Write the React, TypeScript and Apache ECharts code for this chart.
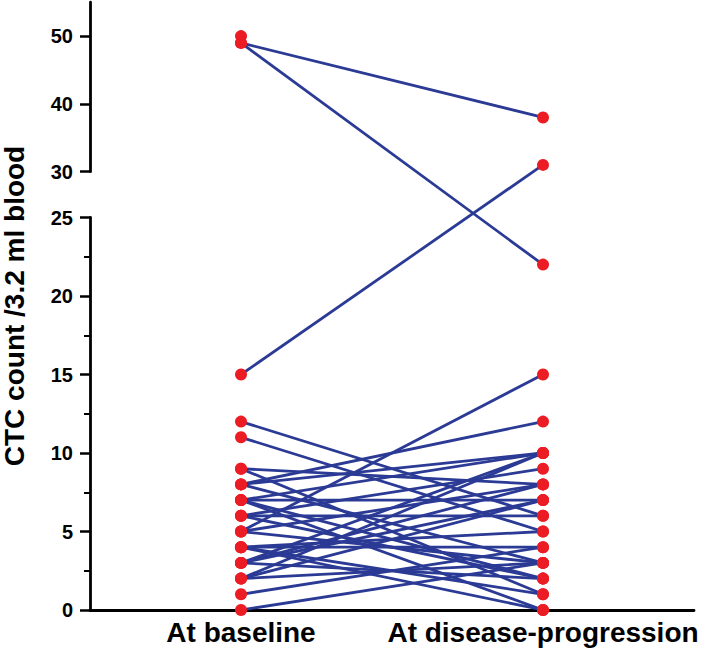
import React, { useEffect, useRef } from "react";
import * as echarts from "echarts";

// ---- data ----
const groups = ["At baseline", "At disease-progression"];
// one value per patient; null = no value at disease progression
const baseline = [50, 49, 49, 15, 12, 11, 9, 9, 8, 8, 8, 7, 7, 7, 7, 6, 6, 6, 5, 5, 5, 4, 4, 4, 4, 3, 3, 3, 3, 2, 2, 2, 1, 0];
const progression: (number | null)[] = [null, 38, 22, 31, 6, 5, 8, 1, 12, 10, 3, 10, 7, 2, 0, 9, 6, 2, 15, 8, 3, 1, 4, 0, 5, 10, 8, 2, 7, 10, 7, 3, 4, 3];
const lowerTicks = [0, 5, 10, 15, 20, 25];
const upperTicks = [30, 40, 50];
const yTitle = "CTC count /3.2 ml blood";

// ---- broken-axis layout (pixels) ----
const W = 709;
const H = 654;
const X0 = 90; // y axis x
const AXIS_Y = 610; // x axis y
const LOW_PX = 15.7; // px per unit in lower segment
const UP_PX = 6.78; // px per unit in upper segment
const UP_BASE = 171.7; // pixel y of 30
const LOW_MAX = 25;
const UP_MIN = 30;
const UP_MAX = 55;

// transformed coordinate (pixels above x axis) used by the hidden data axis
const t = (v: number) =>
  v <= LOW_MAX ? v * LOW_PX : AXIS_Y - UP_BASE + (v - UP_MIN) * UP_PX;

const FONT = "'Liberation Sans', Arial, Helvetica, sans-serif";
const LINE_COLOR = "#2b3a94";
const DOT_COLOR = "#ec1c24";

export default function App() {
  const ref = useRef<HTMLDivElement>(null);
  useEffect(() => {
    if (!ref.current) return;
    const chart = echarts.init(ref.current, undefined, { renderer: "svg" });
    const tMax = t(UP_MAX);
    const gridTop = AXIS_Y - tMax;
    const gridBottom = H - AXIS_Y;
    const xMin = -0.5;
    const xMax = 1.5;
    const gridRight = 15;

    const lineSeries: any[] = [];
    baseline.forEach((b, i) => {
      const p = progression[i];
      if (p === null || p === undefined) return;
      lineSeries.push({
        type: "line",
        xAxisIndex: 0,
        yAxisIndex: 0,
        data: [
          [0, t(b)],
          [1, t(p)],
        ],
        symbol: "none",
        silent: true,
        z: 2,
        lineStyle: { color: LINE_COLOR, width: 2.8 },
      });
    });

    const dots: number[][] = [];
    baseline.forEach((b) => dots.push([0, t(b)]));
    progression.forEach((p) => {
      if (p !== null && p !== undefined) dots.push([1, t(p)]);
    });

    const axisLineStyle = { color: "#000", width: 2.8 };
    const labelStyle = {
      color: "#000",
      fontFamily: FONT,
      fontWeight: "bold" as const,
      fontSize: 20,
    };

    const option: any = {
      animation: false,
      backgroundColor: "#fff",
      grid: [
        { left: X0, right: gridRight, top: gridTop, bottom: gridBottom },
        { left: X0, right: gridRight, top: AXIS_Y - LOW_MAX * LOW_PX, bottom: gridBottom },
        { left: X0, right: gridRight, top: UP_BASE - (UP_MAX - UP_MIN) * UP_PX, bottom: H - UP_BASE },
      ],
      xAxis: [
        {
          gridIndex: 0,
          type: "value",
          min: xMin,
          max: xMax,
          splitLine: { show: false },
          axisLine: { show: true, lineStyle: axisLineStyle, onZero: false },
          axisTick: {
            show: true,
            customValues: [0, 1],
            length: 5,
            lineStyle: { color: "#000", width: 2 },
          },
          axisLabel: {
            customValues: [0, 1],
            formatter: (v: number) => groups[Math.round(v)] ?? "",
            color: "#000",
            fontFamily: FONT,
            fontWeight: "bold",
            fontSize: 28,
            margin: 8,
          },
        },
        { gridIndex: 1, type: "value", show: false, min: 0, max: 1 },
        { gridIndex: 2, type: "value", show: false, min: 0, max: 1 },
      ],
      yAxis: [
        { gridIndex: 0, type: "value", show: false, min: 0, max: tMax },
        {
          gridIndex: 1,
          type: "value",
          min: 0,
          max: LOW_MAX,
          interval: 5,
          splitLine: { show: false },
          axisLine: { show: true, lineStyle: axisLineStyle },
          axisTick: {
            show: true,
            customValues: lowerTicks,
            length: 10,
            lineStyle: { color: "#000", width: 2.5 },
          },
          minorTick: {
            show: true,
            splitNumber: 2,
            length: 6,
            lineStyle: { color: "#000", width: 2 },
          },
          minorSplitLine: { show: false },
          axisLabel: { ...labelStyle, customValues: lowerTicks, margin: 17 },
        },
        {
          gridIndex: 2,
          type: "value",
          min: UP_MIN,
          max: UP_MAX,
          splitLine: { show: false },
          axisLine: { show: true, lineStyle: axisLineStyle },
          axisTick: {
            show: true,
            customValues: upperTicks,
            length: 10,
            lineStyle: { color: "#000", width: 2.5 },
          },
          axisLabel: { ...labelStyle, customValues: upperTicks, margin: 17 },
        },
      ],
      graphic: [
        {
          type: "text",
          x: 14,
          y: 306,
          rotation: Math.PI / 2,
          style: {
            text: yTitle,
            fill: "#000",
            font: `bold 28px ${FONT}`,
            textAlign: "center",
            textVerticalAlign: "middle",
          },
        },
      ],
      series: [
        ...lineSeries,
        {
          type: "scatter",
          xAxisIndex: 0,
          yAxisIndex: 0,
          data: dots,
          symbol: "circle",
          symbolSize: 12,
          itemStyle: { color: DOT_COLOR, opacity: 1 },
          silent: true,
          z: 5,
        },
      ],
    };
    chart.setOption(option);
    return () => chart.dispose();
  }, []);

  return (
    <div
      ref={ref}
      style={{ position: "fixed", left: 0, top: 0, width: W, height: H, background: "#fff" }}
    />
  );
}
